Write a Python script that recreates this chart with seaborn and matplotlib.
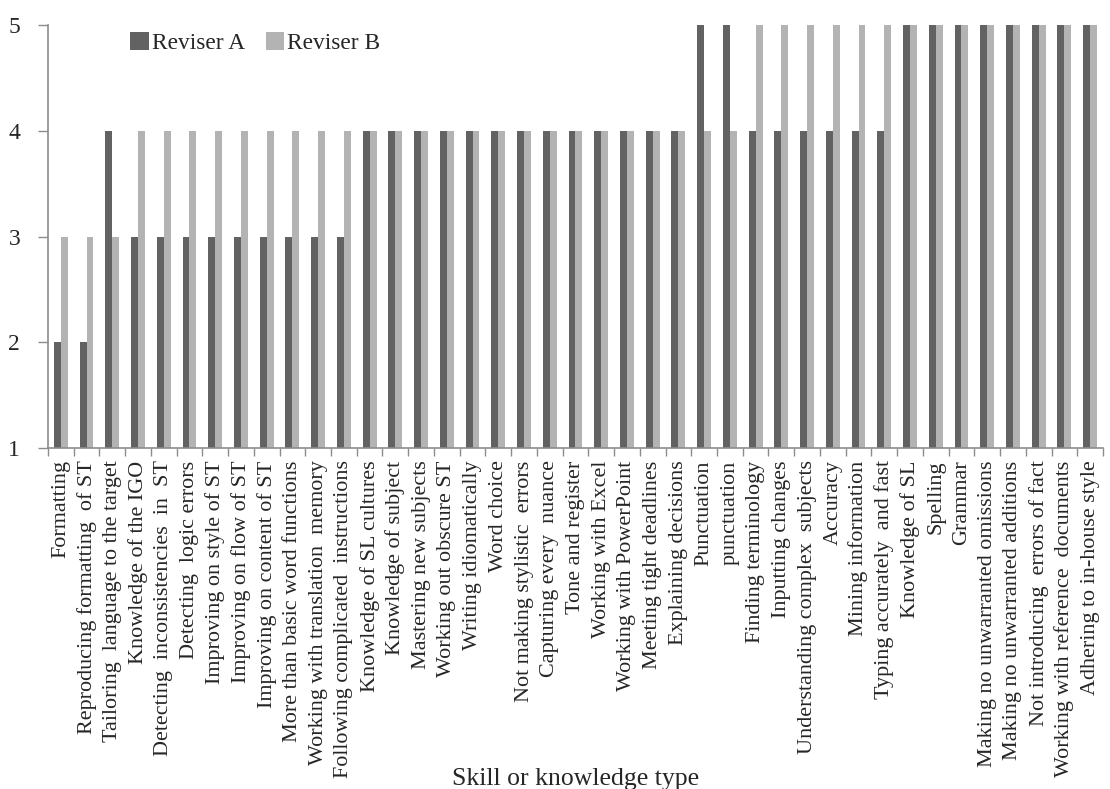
import numpy as np
import pandas as pd
import matplotlib
matplotlib.use("Agg")
import matplotlib.pyplot as plt
import seaborn as sns

skills = [
    "Formatting",
    "Reproducing formatting  of ST",
    "Tailoring  language to the target",
    "Knowledge of the IGO",
    "Detecting  inconsistencies  in  ST",
    "Detecting  logic errors",
    "Improving on style of ST",
    "Improving on flow of ST",
    "Improving on content of ST",
    "More than basic word functions",
    "Working with translation  memory",
    "Following complicated  instructions",
    "Knowledge of SL cultures",
    "Knowledge of subject",
    "Mastering new subjects",
    "Working out obscure ST",
    "Writing idiomatically",
    "Word choice",
    "Not making stylistic  errors",
    "Capturing every  nuance",
    "Tone and register",
    "Working with Excel",
    "Working with PowerPoint",
    "Meeting tight deadlines",
    "Explaining decisions",
    "Punctuation",
    "punctuation",
    "Finding terminology",
    "Inputting changes",
    "Understanding complex  subjects",
    "Accuracy",
    "Mining information",
    "Typing accurately  and fast",
    "Knowledge of SL",
    "Spelling",
    "Grammar",
    "Making no unwarranted omissions",
    "Making no unwarranted additions",
    "Not introducing  errors of fact",
    "Working with reference  documents",
    "Adhering to in-house style",
]

reviser_a = [2, 2, 4, 3, 3, 3, 3, 3, 3, 3, 3, 3,
             4, 4, 4, 4, 4, 4, 4, 4, 4, 4, 4, 4, 4,
             5, 5,
             4, 4, 4, 4, 4, 4,
             5, 5, 5, 5, 5, 5, 5, 5]
reviser_b = [3, 3, 3, 4, 4, 4, 4, 4, 4, 4, 4, 4,
             4, 4, 4, 4, 4, 4, 4, 4, 4, 4, 4, 4, 4,
             4, 4,
             5, 5, 5, 5, 5, 5,
             5, 5, 5, 5, 5, 5, 5, 5]

series_names = ["Reviser A", "Reviser B"]
y_ticks = [1, 2, 3, 4, 5]

df = pd.DataFrame({
    "Skill": skills * 2,
    "Score": reviser_a + reviser_b,
    "Reviser": [series_names[0]] * len(skills) + [series_names[1]] * len(skills),
})

sns.set_theme(style="white")
plt.rcParams["font.family"] = ["Liberation Serif", "DejaVu Serif"]

fig = plt.figure(figsize=(11.10, 7.89), dpi=100)
ax = fig.add_axes([0.0432, 0.4322, 0.9505, 0.5361])

palette = {"Reviser A": "#626262", "Reviser B": "#b3b3b3"}
sns.barplot(data=df, x="Skill", y="Score", hue="Reviser", order=skills,
            hue_order=series_names, palette=palette, width=0.54,
            saturation=1, ax=ax, linewidth=0)

# bars are measured from the baseline at 1
for p in ax.patches:
    h = p.get_height()
    if h > 0:
        p.set_y(1)
        p.set_height(h - 1)

n = len(skills)
ax.set_xlim(-0.5, n - 0.5)
ax.set_ylim(1, 5)
ax.set_yticks(y_ticks)
ax.set_yticklabels([str(t) for t in y_ticks], fontsize=17)

# category boundaries carry the tick marks, labels sit at the centres
ax.set_xticks(np.arange(-0.5, n, 1.0))
ax.set_xticklabels([""] * (n + 1))
ax.set_xticks(np.arange(n), minor=True)
ax.set_xticklabels(skills, minor=True, rotation=90, fontsize=15.9,
                   ha="center", va="top")
ax.tick_params(axis="x", which="major", direction="out", length=6,
               width=1, color="#8c8c8c", bottom=True)
ax.tick_params(axis="x", which="minor", length=0, pad=9, bottom=True)
ax.tick_params(axis="y", direction="out", length=7, width=1,
               color="#8c8c8c", left=True, pad=13)

for side in ["top", "right"]:
    ax.spines[side].set_visible(False)
for side in ["left", "bottom"]:
    ax.spines[side].set_color("#8c8c8c")
    ax.spines[side].set_linewidth(1.2)

ax.set_ylabel("")
ax.set_xlabel("Skill or knowledge type", fontsize=18.5)
ax.xaxis.label.set_va("baseline")
ax.xaxis.set_label_coords(0.5, (448 - 785) / 423)
ax.grid(False)

leg = ax.legend(loc="upper left", bbox_to_anchor=(0.069, 1.005), ncol=2,
                frameon=False, fontsize=16.8, handlelength=0.8,
                handleheight=0.8, handletextpad=0.12, columnspacing=0.9,
                borderaxespad=0)

fig.savefig("out.png", dpi=100, facecolor="white")
